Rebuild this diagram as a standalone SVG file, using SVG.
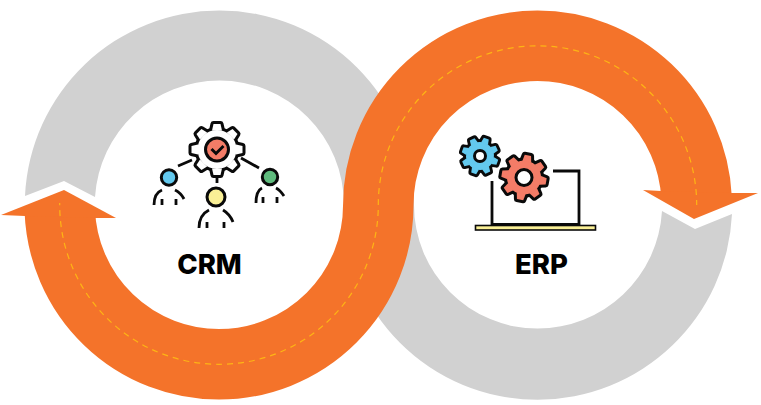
<svg xmlns="http://www.w3.org/2000/svg" xmlns:xlink="http://www.w3.org/1999/xlink" width="761" height="405" viewBox="0 0 761 405">
<style>
.ln{fill:none;stroke:#0a0a0a;stroke-width:2.8;stroke-linecap:butt}
.head{stroke:#0a0a0a;stroke-width:3}
.lbl{font-family:Inter,"Open Sans",sans-serif;font-weight:800;font-size:27.500px;fill:#000;text-anchor:middle}
.hub{stroke:#0a0a0a;stroke-width:3}
.outline{fill:#0a0a0a;stroke:#0a0a0a;stroke-linejoin:round}
</style>
<defs>
<g id="cog-crm">
<circle r="19.500"/>
<path id="t8" d="M-5,-19 L-3.500,-25.500 H3.500 L5,-19Z"/>
<use href="#t8" transform="rotate(45)"/><use href="#t8" transform="rotate(90)"/><use href="#t8" transform="rotate(135)"/><use href="#t8" transform="rotate(180)"/><use href="#t8" transform="rotate(225)"/><use href="#t8" transform="rotate(270)"/><use href="#t8" transform="rotate(315)"/>
</g>
<g id="cog-erp">
<circle r="17"/>
<path id="te" d="M-4.500,-16 L-3.200,-22.500 H3.200 L4.500,-16Z"/>
<use href="#te" transform="rotate(45)"/><use href="#te" transform="rotate(90)"/><use href="#te" transform="rotate(135)"/><use href="#te" transform="rotate(180)"/><use href="#te" transform="rotate(225)"/><use href="#te" transform="rotate(270)"/><use href="#te" transform="rotate(315)"/>
</g>
</defs>
<rect width="761" height="405" fill="#fff"/>
<g id="connectors">
<path id="grey-left" fill="#d1d1d1" d="M25,196 L64,181 L95,197 A124.700,124.700 0 0 1 219.500,80.500 A124.500,124.500 0 0 1 344,205 H414 A194.500,194.500 0 0 0 219.500,10.500 A194.500,194.500 0 0 0 25,196Z"/>
<path id="grey-right" fill="#d1d1d1" d="M662,211 L695,229 L732,214 A194.700,194.700 0 0 1 537.500,399.700 A194.500,194.500 0 0 1 343,205 H414 A123.500,123.500 0 0 0 537.500,328.500 A124.500,124.500 0 0 0 662,211Z"/>
<path id="orange-band" fill="none" stroke="#f4732a" stroke-width="70.500" d="M696.500,197 A159.200,159.200 0 0 0 537.500,45.800 A159.200,159.200 0 0 0 378.300,205 A159.300,159.300 0 0 1 219,364.300 A159.300,159.300 0 0 1 59.810,211"/>
<polygon id="arrow-right" fill="#f4732a" points="643,190 661,191 732,193 758,193 694,219"/>
<polygon id="arrow-left" fill="#f4732a" points="1,215 64,190 116,218 96,218 25,216"/>
<path id="centre-dash" fill="none" stroke="#fdb515" stroke-width="1.200" stroke-dasharray="6 5" d="M696.700,204 V205 A159.200,159.200 0 0 0 537.500,45.800 A159.200,159.200 0 0 0 378.300,205 A159.300,159.300 0 0 1 219,364.300 A159.300,159.300 0 0 1 59.700,205 V203"/>
</g>
<g id="crm">
<path class="ln" d="M178,166 L192,160 M217,166 V183 M241,158 L259,168"/>
<use class="outline" href="#cog-crm" transform="translate(217,149.500)" stroke-width="6"/>
<use href="#cog-crm" transform="translate(217,149.500)" fill="#fff"/>
<circle class="hub" cx="217" cy="149.500" r="11.500" fill="#f47c67"/>
<path d="M211.500,149 L216,153.500 L223.500,146" fill="none" stroke="#0a0a0a" stroke-width="3"/>
<circle class="head" cx="169" cy="177.500" r="7.700" fill="#63c9ee"/>
<path class="ln" d="M154,205 C154,197 157,192 162,190 M175,190 C179,192 182,195 184,199 M162,199 V205 M176,199 V205"/>
<circle class="head" cx="216" cy="197" r="9" fill="#faf096"/>
<path class="ln" d="M199,228 C199,219 203,213 209,210 M223,210 C228,213 231,217 233,222 M207,222 V228 M224,222 V228"/>
<circle class="head" cx="270" cy="177" r="7.700" fill="#5fbb7d"/>
<path class="ln" d="M256,203 C256,195 258,190 262,188 M276,188 C280,190 282,193 284,196 M263,197 V203 M277,197 V203"/>
<text class="lbl" x="209.500" y="274">CRM</text>
</g>
<g id="erp">
<path class="ln" d="M492,181 V225 M553,171 H579 V225 M492,224.500 H579"/>
<rect x="475.500" y="225.500" width="120" height="4.500" fill="#faf096" stroke="#0a0a0a" stroke-width="1.600"/>
<use class="outline" href="#cog-erp" transform="translate(480,156) rotate(20) scale(.82)" stroke-width="7"/>
<use href="#cog-erp" transform="translate(480,156) rotate(20) scale(.82)" fill="#63c9ee"/>
<circle cx="480" cy="156" r="5.500" fill="#fff" stroke="#0a0a0a" stroke-width="3"/>
<use class="outline" href="#cog-erp" transform="translate(524,177.500) rotate(10)" stroke-width="6"/>
<use href="#cog-erp" transform="translate(524,177.500) rotate(10)" fill="#f47c67"/>
<circle cx="524" cy="177.500" r="8" fill="#fff" stroke="#0a0a0a" stroke-width="3"/>
<text class="lbl" x="541.500" y="274">ERP</text>
</g>
</svg>
